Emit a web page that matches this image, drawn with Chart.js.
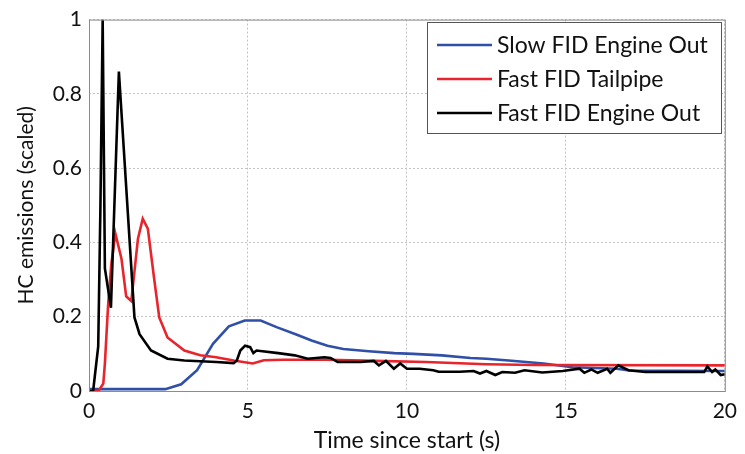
<!DOCTYPE html>
<html>
<head>
<meta charset="utf-8">
<script src="https://cdn.jsdelivr.net/npm/chart.js@4.4.1/dist/chart.umd.min.js"></script>
<style>
  html, body { margin: 0; padding: 0; background: #fff; }
  #wrap { width: 745px; height: 454px; }
</style>
</head>
<body>
<div id="wrap"><canvas id="myChart" width="745" height="454"></canvas></div>
<script>
// values (time in s, HC scaled)
var slowT = [0, 2.4, 2.9, 3.4, 3.9, 4.4, 4.9, 5.4, 5.9, 6.5, 7.0, 7.5, 8.0, 8.8, 9.6, 10.2, 11.1, 12.0, 12.5, 13.2, 14.3, 15.2, 16.6, 17.0, 20];
var slowV = [0.005, 0.005, 0.018, 0.056, 0.127, 0.174, 0.19, 0.19, 0.172, 0.153, 0.136, 0.122, 0.113, 0.107, 0.102, 0.1, 0.096, 0.089, 0.087, 0.082, 0.074, 0.064, 0.06, 0.055, 0.054];

var tailT = [0, 0.3, 0.45, 0.5, 0.6, 0.7, 0.83, 1.02, 1.17, 1.33, 1.54, 1.69, 1.85, 2.06, 2.21, 2.47, 3.0, 3.5, 4.0, 4.55, 5.15, 5.5, 6.1, 7.5, 9.0, 10.6, 12.5, 14.0, 20];
var tailV = [0, 0, 0.02, 0.074, 0.23, 0.34, 0.424, 0.357, 0.255, 0.242, 0.41, 0.464, 0.437, 0.295, 0.198, 0.144, 0.109, 0.096, 0.091, 0.082, 0.074, 0.083, 0.084, 0.084, 0.081, 0.078, 0.072, 0.07, 0.069];

var engT = [0, 0.13, 0.29, 0.36, 0.43, 0.5, 0.69, 0.94, 1.43, 1.59, 1.95, 2.47, 3.0, 3.5, 4.0, 4.55, 4.65, 4.76, 4.91, 5.07, 5.17, 5.27, 5.95, 6.47, 6.88, 7.4, 7.6, 7.82, 8.54, 8.96, 9.12, 9.34, 9.59, 9.79, 10.0, 10.4, 10.83, 11.0, 11.66, 12.1, 12.3, 12.5, 12.78, 13.0, 13.4, 13.7, 14.26, 14.9, 15.43, 15.58, 15.8, 16.0, 16.3, 16.4, 16.65, 16.97, 17.5, 19.35, 19.45, 19.6, 19.7, 19.87, 20];
var engV = [0, 0, 0.12, 0.5, 1.0, 0.33, 0.224, 0.86, 0.198, 0.153, 0.109, 0.087, 0.082, 0.08, 0.078, 0.075, 0.082, 0.109, 0.122, 0.118, 0.102, 0.109, 0.102, 0.096, 0.087, 0.091, 0.089, 0.078, 0.078, 0.081, 0.069, 0.081, 0.06, 0.074, 0.06, 0.06, 0.056, 0.052, 0.052, 0.054, 0.047, 0.054, 0.043, 0.051, 0.049, 0.056, 0.05, 0.054, 0.06, 0.049, 0.058, 0.049, 0.06, 0.049, 0.069, 0.056, 0.051, 0.051, 0.066, 0.051, 0.058, 0.043, 0.045];

var seriesNames = ["Slow FID Engine Out", "Fast FID Tailpipe", "Fast FID Engine Out"];
var xTitle = "Time since start (s)";
var yTitle = "HC emissions (scaled)";

var FONT = "Lato";

function pts(t, v) {
  return t.map(function (x, i) { return { x: x, y: v[i] }; });
}

// box round the plot + legend inside the top right corner
var framePlugin = {
  id: 'frame',
  afterDraw: function (chart) {
    var ctx = chart.ctx, a = chart.chartArea;
    ctx.save();
    ctx.strokeStyle = '#8c8c8c';
    ctx.lineWidth = 1;
    ctx.strokeRect(a.left + 0.5, a.top + 0.5, a.right - a.left, a.bottom - a.top);

    var bx = 427, by = 22, bw = 294, bh = 111;
    ctx.fillStyle = '#fff';
    ctx.fillRect(bx, by, bw, bh);
    ctx.strokeStyle = '#555';
    ctx.strokeRect(bx + 0.5, by + 0.5, bw, bh);
    ctx.font = '23px ' + FONT;
    ctx.textBaseline = 'middle';
    var rows = [45, 79, 113];
    chart.data.datasets.forEach(function (ds, i) {
      ctx.strokeStyle = ds.borderColor;
      ctx.lineWidth = 2.5;
      ctx.beginPath();
      ctx.moveTo(437, rows[i]);
      ctx.lineTo(492, rows[i]);
      ctx.stroke();
      ctx.fillStyle = '#111';
      ctx.fillText(ds.label, 497, rows[i] + 1);
    });
    ctx.restore();
  }
};

new Chart(document.getElementById('myChart'), {
  type: 'line',
  data: {
    datasets: [
      { label: seriesNames[0], data: pts(slowT, slowV), borderColor: '#3050a8', order: 3 },
      { label: seriesNames[1], data: pts(tailT, tailV), borderColor: '#e8242c', order: 2 },
      { label: seriesNames[2], data: pts(engT, engV), borderColor: '#000000', order: 1 }
    ]
  },
  options: {
    responsive: false,
    animation: false,
    layout: { padding: { left: 0, top: 14, right: 14, bottom: 0 } },
    elements: {
      point: { radius: 0 },
      line: { borderWidth: 2.6, tension: 0, fill: false }
    },
    plugins: {
      legend: { display: false },
      tooltip: { enabled: false }
    },
    scales: {
      x: {
        type: 'linear',
        min: 0, max: 20,
        afterFit: function (s) { s.height = 63; },
        ticks: { stepSize: 5, padding: 8, color: '#111', font: { family: FONT, size: 21 } },
        grid: { color: '#c4c4c4', drawTicks: false },
        border: { display: false, dash: [2, 2] },
        title: { display: true, text: xTitle, color: '#111', font: { family: FONT, size: 23 }, padding: { top: 0, bottom: 0 } }
      },
      y: {
        min: 0, max: 1,
        afterFit: function (s) { s.width = 89; },
        ticks: {
          stepSize: 0.2, padding: 7, color: '#111', font: { family: FONT, size: 21 },
          callback: function (v) { return String(Number(v.toFixed(1))); }
        },
        grid: { color: '#c4c4c4', drawTicks: false },
        border: { display: false, dash: [2, 2] },
        title: { display: true, text: yTitle, color: '#111', font: { family: FONT, size: 21 }, padding: { top: 14, bottom: 0 } }
      }
    }
  },
  plugins: [framePlugin]
});
</script>
</body>
</html>
